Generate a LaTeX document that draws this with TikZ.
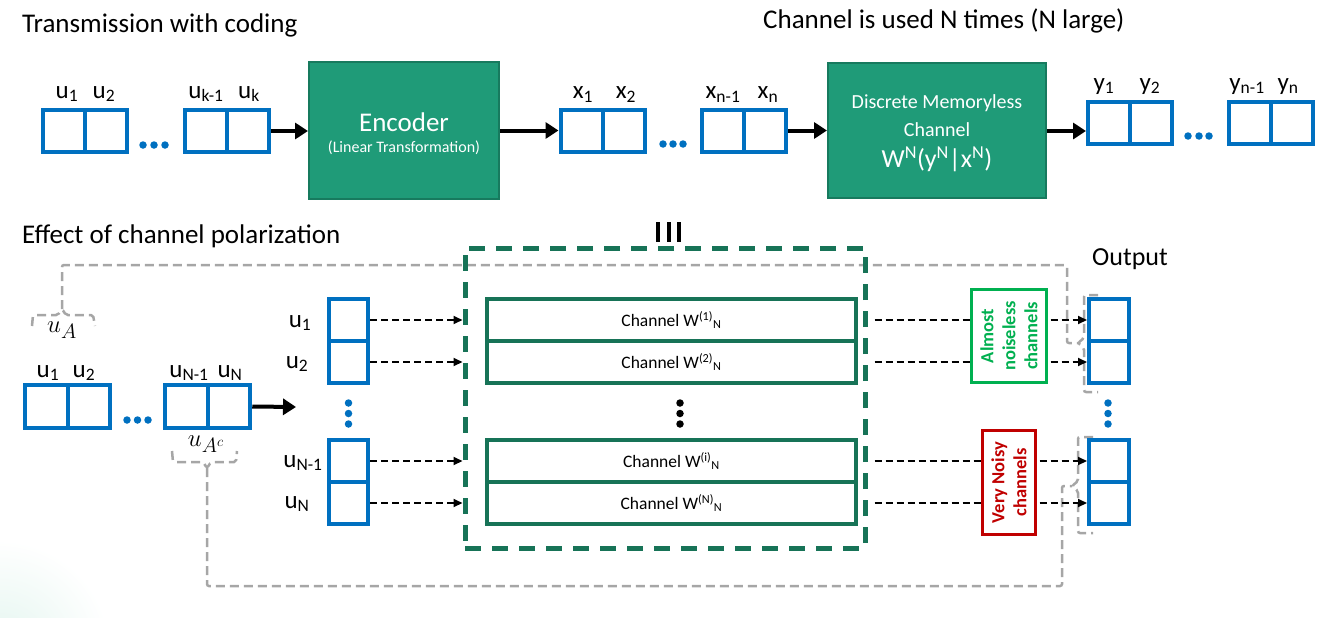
\documentclass[tikz,border=0pt]{standalone}
\usepackage{fontspec}
\setmainfont{Carlito}
\usetikzlibrary{arrows.meta,calc}
\definecolor{cblue}{HTML}{0070C0}
\definecolor{encfill}{HTML}{1F9B78}
\definecolor{encdraw}{HTML}{177A5E}
\definecolor{dgreen}{HTML}{177357}
\definecolor{lgreen}{HTML}{00B050}
\definecolor{dred}{HTML}{C00000}
\definecolor{cgray}{HTML}{A6A6A6}
\definecolor{mint}{HTML}{E3F5EF}
\newcommand\fs[2]{\fontsize{#1}{#2}\selectfont}
\begin{document}
\begin{tikzpicture}[x=1pt,y=-1pt,
  cell/.style={draw=cblue, line width=4pt, minimum width=42pt, minimum height=42pt, inner sep=0pt},
  vcell/.style={draw=cblue, line width=4pt, minimum width=39pt, minimum height=42pt, inner sep=0pt},
  lbl/.style={anchor=base, inner sep=0pt, font=\fs{25}{29}},
  ttl/.style={anchor=base west, inner sep=0pt, font=\fs{27}{31}},
  bigarrow/.style={line width=4pt, -{Triangle[length=13pt,width=16pt]}},
  darrow/.style={line width=2pt, dash pattern=on 7pt off 4pt, -{Triangle[length=9pt,width=8pt]}},
  gline/.style={draw=cgray, line width=2.5pt, dash pattern=on 9pt off 5pt, rounded corners=2pt},
  proc/.style={draw=encdraw, fill=encfill, line width=2pt, text=white, align=center, inner sep=0pt},
  chanbox/.style={draw=dgreen, line width=4pt, minimum width=369pt, minimum height=42pt, inner sep=0pt, font=\fs{17.5}{21}},
  bdot/.style={circle, fill=cblue, inner sep=0pt, minimum size=7.5pt},
  kdot/.style={circle, fill=black, inner sep=0pt, minimum size=7.5pt},
  tag/.style={line width=3pt, fill=white, rotate=90, align=center, inner sep=0pt, font=\bfseries\fs{18.5}{22}}
]
\useasboundingbox (0,0) rectangle (1330,618);
\begin{scope}
  \clip (0,0) rectangle (1330,618);
  \shade[inner color=mint, outer color=white] (0,650) circle (110);
\end{scope}

% ---------- titles ----------
\node[ttl] (t1) at (22,33) {Transmission with coding};
\node[ttl] (t2) at (763,29) {Channel is used N times (N large)};
\node[ttl] (t3) at (22,243) {Effect of channel polarization};
\node[anchor=base, inner sep=0pt, font=\fs{26}{30}] (tout) at (1130,265) {Output};

% ---------- top row ----------
\node[cell] (u1) at (64,131) {};
\node[cell] (u2) at (106,131) {};
\node[cell] (uk1) at (205.5,131) {};
\node[cell] (uk) at (248,131) {};
\node[lbl] (lu1) at (67,98) {u\textsubscript{1}};
\node[lbl] (lu2) at (104,98) {u\textsubscript{2}};
\node[lbl] (luk1) at (206,98) {u\textsubscript{k-1}};
\node[lbl] (luk) at (249,98) {u\textsubscript{k}};
\foreach \i/\xx in {1/143,2/154,3/165} \node[bdot] (du\i) at (\xx,145) {};

\node[proc, minimum width=190pt, minimum height=137pt] (enc) at (404,130.5) {};
\node[text=white, font=\fs{27}{30}, inner sep=0pt] (enct) at (404,122) {Encoder};
\node[text=white, font=\fs{16}{19}, inner sep=0pt] (encs) at (404,148) {(Linear Transformation)};

\node[cell] (x1) at (581.5,130.5) {};
\node[cell] (x2) at (624,130.5) {};
\node[cell] (xn1) at (723,130.5) {};
\node[cell] (xn) at (765,130.5) {};
\node[lbl] (lx1) at (583,99) {x\textsubscript{1}};
\node[lbl] (lx2) at (626,99) {x\textsubscript{2}};
\node[lbl] (lxn1) at (723,99) {x\textsubscript{n-1}};
\node[lbl] (lxn) at (768,99) {x\textsubscript{n}};
\foreach \i/\xx in {1/663,2/673,3/683} \node[bdot] (dx\i) at (\xx,144) {};

\node[proc, minimum width=218pt, minimum height=135pt] (chan) at (937,130.5) {};
\node[text=white, font=\fs{20}{24}, inner sep=0pt] (cht1) at (937,103) {Discrete Memoryless};
\node[text=white, font=\fs{20}{24}, inner sep=0pt] (cht2) at (937,130) {Channel};
\node[text=white, font=\fs{26}{30}, inner sep=0pt] (cht3) at (937,159) {W\textsuperscript{N}(y\textsuperscript{N}|x\textsuperscript{N})};

\node[cell] (y1) at (1109,122.5) {};
\node[cell] (y2) at (1150.5,122.5) {};
\node[cell] (yn1) at (1249.5,122.5) {};
\node[cell] (yn) at (1291.5,122.5) {};
\node[lbl] (ly1) at (1104,90) {y\textsubscript{1}};
\node[lbl] (ly2) at (1150,90) {y\textsubscript{2}};
\node[lbl] (lyn1) at (1247,90) {y\textsubscript{n-1}};
\node[lbl] (lyn) at (1288,90) {y\textsubscript{n}};
\foreach \i/\xx in {1/1188,2/1199,3/1209} \node[bdot] (dy\i) at (\xx,136) {};

\draw[bigarrow] (uk.east) -- (enc.west |- uk.east);
\draw[bigarrow] (enc.east |- x1.west) -- (x1.west);
\draw[bigarrow] (xn.east) -- (chan.west |- xn.east);
\coordinate (y1in) at ([yshift=-8.5pt]y1.west);
\draw[bigarrow] (chan.east |- y1in) -- (y1in);

% ---------- "III" ----------
\foreach \i/\xx in {1/658,2/668.5,3/679}
  \draw[line width=4pt] (\xx,222) coordinate (bar\i a) -- (\xx,242) coordinate (bar\i b);

% ---------- bottom-left row ----------
\node[cell, minimum width=42.5pt, minimum height=43pt] (b1) at (46.5,406.5) {};
\node[cell, minimum width=42.5pt, minimum height=43pt] (b2) at (89,406.5) {};
\node[cell, minimum width=42.5pt, minimum height=43pt] (bN1) at (186.5,406.5) {};
\node[cell, minimum width=42.5pt, minimum height=43pt] (bN) at (229,406.5) {};
\node[lbl] (lb1) at (48,377) {u\textsubscript{1}};
\node[lbl] (lb2) at (84,377) {u\textsubscript{2}};
\node[lbl] (lbN1) at (189,377) {u\textsubscript{N-1}};
\node[lbl] (lbN) at (230,377) {u\textsubscript{N}};
\foreach \i/\xx in {1/127,2/137.5,3/148} \node[bdot] (db\i) at (\xx,420) {};
\coordinate (arrEnd) at (296,407);
\draw[bigarrow] (bN.east) -- (arrEnd);

\node[inner sep=0pt, font=\fs{30}{34}] (uA) at (62,330) {$u_A$};
\node[inner sep=0pt, font=\fs{30}{34}] (uAc) at (206,444) {$u_{A^c}$};

% braces
\coordinate (uAtip) at (62,309);
\draw[gline] (32,326) -- (33,315) -- (58,315) -- (uAtip) -- (66,315) -- (93,315) -- (95,326);
\coordinate (uActip) at (207,468);
\draw[gline] (172,451) -- (173,462) -- (203,462) -- (uActip) -- (211,462) -- (236,462) -- (237,451);
\coordinate (rtip1) at (1078,343);
\draw[gline] (1098,295) -- (1084,295) -- (1084,338) -- (rtip1) -- (1084,348) -- (1084,392) -- (1098,392);
\coordinate (rtip2) at (1072,486);
\draw[gline] (1093,437) -- (1078,437) -- (1078,481) -- (rtip2) -- (1078,491) -- (1078,533) -- (1093,533);

% gray connectors
\draw[gline] (uAtip) -- (62,265) -- (1067,265) -- (1067,343) -- (rtip1);
\draw[gline] (uActip) -- (207,586) -- (1062,586) -- (1062,486) -- (rtip2);

% ---------- middle column ----------
\node[vcell] (m1) at (348.5,320) {};
\node[vcell] (m2) at (348.5,362) {};
\node[vcell] (mN1) at (348.5,461) {};
\node[vcell] (mN) at (348.5,503) {};
\node[lbl] (lm1) at (300,327) {u\textsubscript{1}};
\node[lbl] (lm2) at (297,368) {u\textsubscript{2}};
\node[lbl] (lmN1) at (303,467) {u\textsubscript{N-1}};
\node[lbl] (lmN) at (297,508) {u\textsubscript{N}};
\foreach \i/\yy in {1/403,2/413.5,3/424} \node[bdot] (dm\i) at (348.5,\yy) {};

% ---------- polarized channels ----------
\node[draw=dgreen, line width=5pt, dash pattern=on 16pt off 11pt, minimum width=400pt, minimum height=300pt, inner sep=0pt] (big) at (665,398) {};
\node[chanbox] (c1) at (671.5,320) {Channel W\textsuperscript{(1)}\textsubscript{N}};
\node[chanbox] (c2) at (671.5,362) {Channel W\textsuperscript{(2)}\textsubscript{N}};
\node[chanbox] (ci) at (671.5,461) {Channel W\textsuperscript{(i)}\textsubscript{N}};
\node[chanbox] (cN) at (671.5,503) {Channel W\textsuperscript{(N)}\textsubscript{N}};
\foreach \i/\yy in {1/403,2/413.5,3/424} \node[kdot] (dc\i) at (680,\yy) {};

% ---------- output column ----------
\node[vcell, minimum width=40pt] (o1) at (1109,320) {};
\node[vcell, minimum width=40pt] (o2) at (1109,362) {};
\node[vcell, minimum width=40pt] (oN1) at (1109,461) {};
\node[vcell, minimum width=40pt] (oN) at (1109,503) {};
\foreach \i/\yy in {1/403,2/413.5,3/424} \node[bdot] (do\i) at (1108,\yy) {};

% dashed arrows
\foreach \a/\c in {m1/c1,m2/c2,mN1/ci,mN/cN}
  \draw[darrow] (\a.east) -- (\a.east -| big.west);
\foreach \c/\o in {c1/o1,c2/o2,ci/oN1,cN/oN}
  \draw[darrow] ([xshift=7pt]big.east |- \c.east) -- (\o.west |- \c.east);

% ---------- tags ----------
\node[tag, draw=lgreen, text=lgreen, minimum width=93pt, minimum height=75pt] (quiet) at (1009,336) {Almost\\noiseless\\channels};
\node[tag, draw=dred, text=dred, minimum width=104pt, minimum height=53pt] (noisy) at (1009,482.5) {Very Noisy\\channels};
\end{tikzpicture}
\end{document}
